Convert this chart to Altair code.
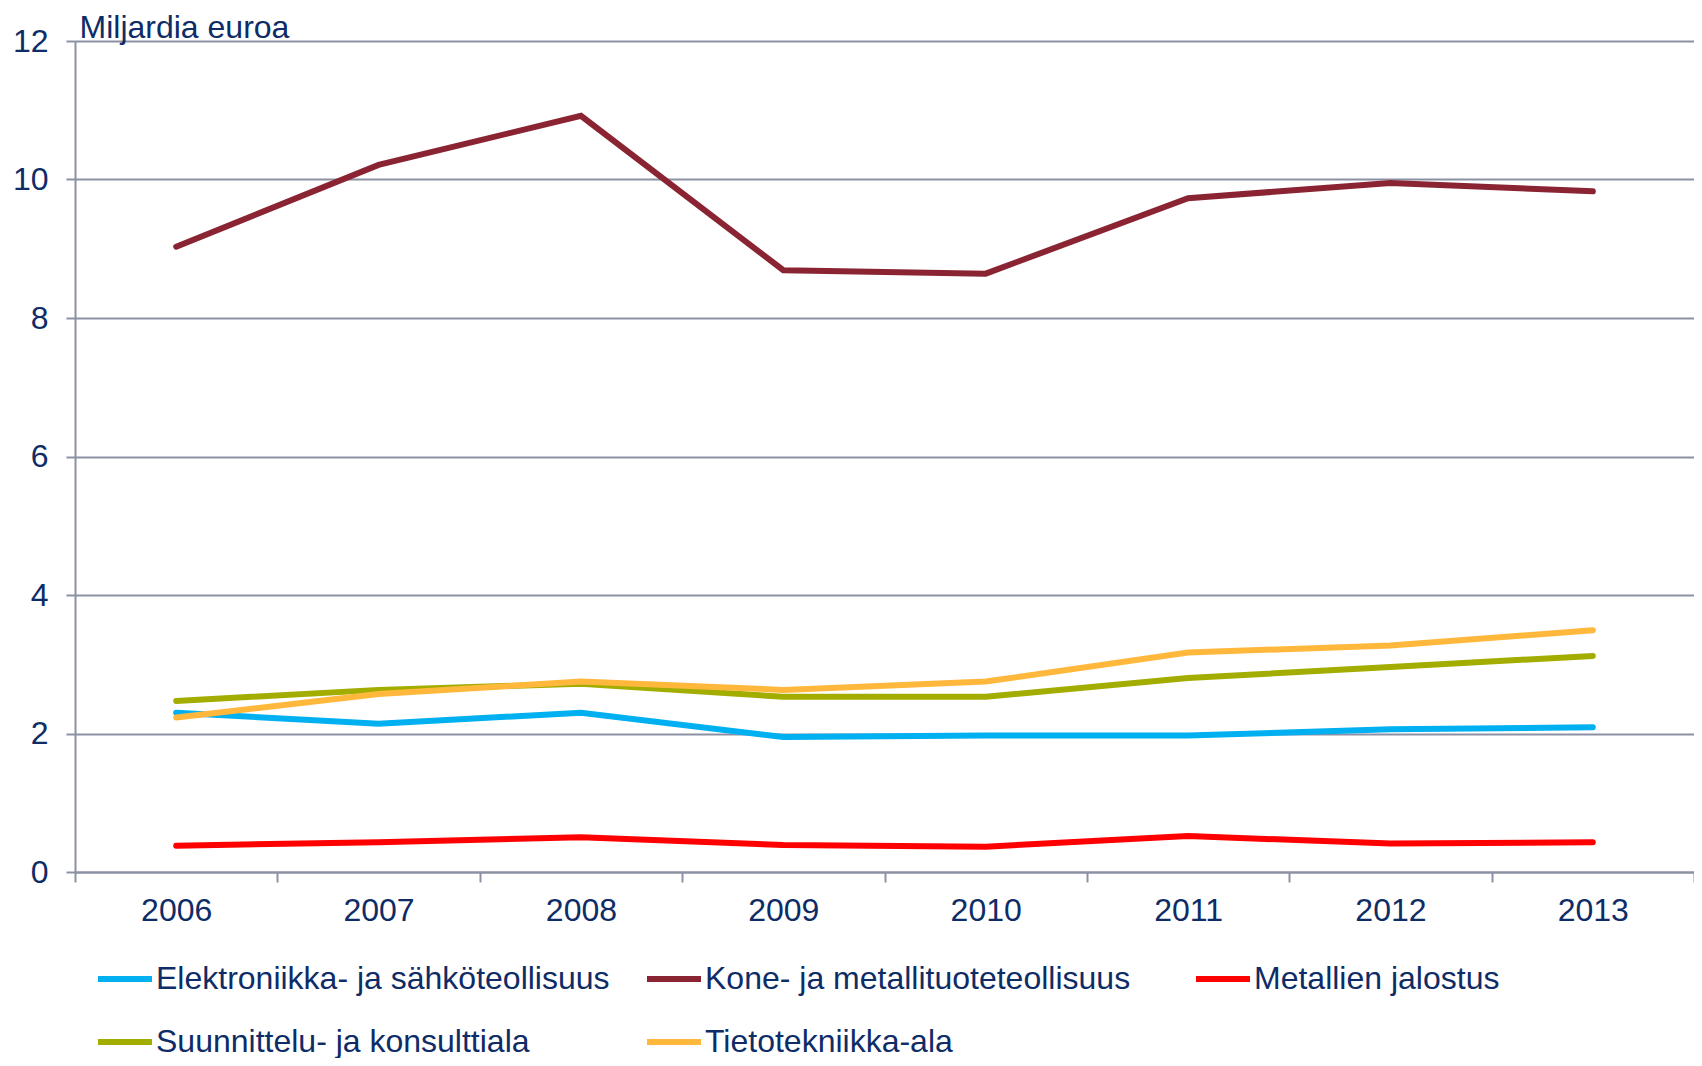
import altair as alt
import pandas as pd

years = ["2006", "2007", "2008", "2009", "2010", "2011", "2012", "2013"]
series_names = [
    "Elektroniikka- ja sähköteollisuus",
    "Kone- ja metallituoteteollisuus",
    "Metallien jalostus",
    "Suunnittelu- ja konsulttiala",
    "Tietotekniikka-ala",
]
elektroniikka = [2.30, 2.14, 2.30, 1.95, 1.97, 1.97, 2.06, 2.09]
kone = [9.03, 10.21, 10.92, 8.69, 8.64, 9.73, 9.95, 9.83]
metallien = [0.38, 0.43, 0.50, 0.39, 0.365, 0.52, 0.41, 0.43]
suunnittelu = [2.47, 2.63, 2.72, 2.53, 2.53, 2.80, 2.96, 3.12]
tietotekniikka = [2.23, 2.57, 2.75, 2.63, 2.75, 3.17, 3.27, 3.49]
y_ticks = [0, 2, 4, 6, 8, 10, 12]
colors = ["#00B0F0", "#8A2432", "#FF0000", "#A2AD00", "#FFB83C"]

NAVY = "#0E2C66"
GRID = "#8C90A4"
FONT = "Liberation Sans"
FS = 32

all_series = [elektroniikka, kone, metallien, suunnittelu, tietotekniikka]
rows = []
for si, (name, vals) in enumerate(zip(series_names, all_series)):
    for y, v in zip(years, vals):
        rows.append({"year": y, "value": v, "series": name, "order": si})
df = pd.DataFrame(rows)

chart = (
    alt.Chart(df)
    .mark_line(strokeWidth=6, strokeCap="round")
    .encode(
        x=alt.X(
            "year:O",
            bandPosition=0.5,
            scale=alt.Scale(type="band", paddingInner=0, paddingOuter=0),
            axis=alt.Axis(
                title=None,
                labelAngle=0,
                tickBand="extent",
                grid=False,
                domainColor=GRID,
                domainWidth=2,
                tickColor=GRID,
                tickWidth=2,
                tickSize=10,
                labelFont=FONT,
                labelFontSize=FS,
                labelColor=NAVY,
                labelPadding=13,
            ),
        ),
        y=alt.Y(
            "value:Q",
            scale=alt.Scale(domain=[0, 12], nice=False),
            axis=alt.Axis(
                values=y_ticks,
                title="Miljardia euroa",
                titleAngle=0,
                titleAlign="left",
                titleBaseline="alphabetic",
                titleX=4,
                titleY=-4,
                titleFont=FONT,
                titleFontSize=FS,
                titleFontWeight="normal",
                titleColor=NAVY,
                grid=True,
                gridColor=GRID,
                gridWidth=2,
                domainColor=GRID,
                domainWidth=2,
                tickColor=GRID,
                tickWidth=2,
                tickSize=9,
                labelFont=FONT,
                labelFontSize=FS,
                labelColor=NAVY,
                labelPadding=18,
            ),
        ),
        color=alt.Color(
            "series:N",
            sort=series_names,
            scale=alt.Scale(domain=series_names, range=colors),
            legend=alt.Legend(
                title=None,
                orient="none",
                legendX=20,
                legendY=908,
                direction="horizontal",
                columns=3,
                gridAlign="all",
                columnPadding=25,
                rowPadding=17,
                symbolType="stroke",
                symbolSize=2916,
                symbolStrokeWidth=6,
                labelFont=FONT,
                labelFontSize=FS,
                labelColor=NAVY,
                labelOffset=1,
                labelLimit=0,
            ),
        ),
        order=alt.Order("order:Q"),
    )
    .properties(
        width=1619,
        height=831,
        padding={"left": 67, "top": 33, "right": 0, "bottom": 186},
        autosize=alt.AutoSizeParams(type="none"),
    )
    .configure_view(stroke=None)
)

chart.save("out.html", embed_options={"renderer": "svg", "actions": False})
